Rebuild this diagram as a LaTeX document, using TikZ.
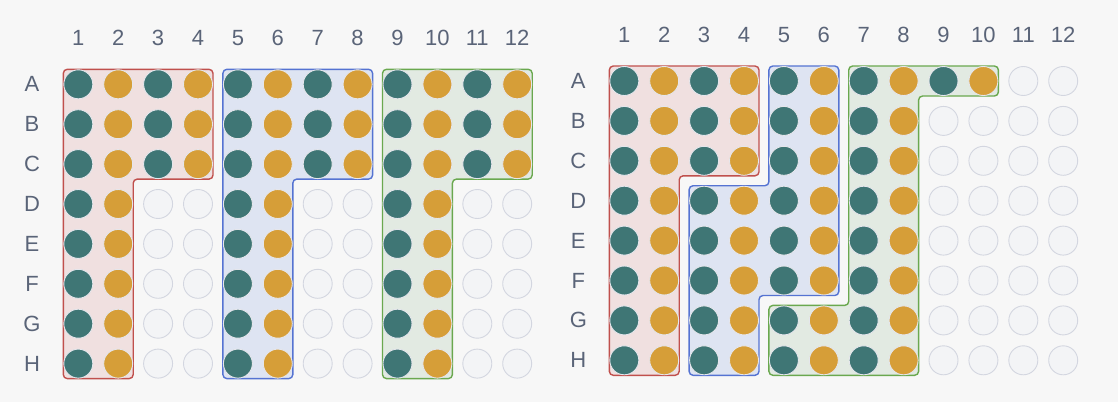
\documentclass[tikz,border=0pt]{standalone}
\usepackage{fontspec}
\setmainfont{Liberation Sans}
\usepackage{tikz, xcolor}
\usetikzlibrary{shapes,arrows}

\definecolor{bgcol}{HTML}{F7F7F7}
\definecolor{labcol}{HTML}{5A6478}
\definecolor{tealwell}{HTML}{3F7675}
\definecolor{goldwell}{HTML}{D69E38}
\definecolor{emptywell}{HTML}{F3F4F6}
\definecolor{wellrim}{HTML}{D3D6E0}
\definecolor{redline}{HTML}{C0504D}
\definecolor{redfill}{HTML}{F0E0E0}
\definecolor{blueline}{HTML}{5573D2}
\definecolor{bluefill}{HTML}{DEE4F2}
\definecolor{greenline}{HTML}{6AA84F}
\definecolor{greenfill}{HTML}{E2EAE2}

\begin{document}
\begin{tikzpicture}[x=1pt, y=-1pt]
\tikzstyle{wellempty}=[circle, draw=wellrim, fill=emptywell, line width=0.9pt, minimum size=29pt, inner sep=0pt]
\tikzstyle{wellteal}=[wellempty, draw=wellrim!60, fill=tealwell]
\tikzstyle{wellgold}=[wellempty, draw=wellrim!60, fill=goldwell]
\tikzstyle{platelabel}=[text=labcol, inner sep=0pt, font=\fontsize{22}{26}\selectfont]
\tikzstyle{redzone}=[draw=redline, fill=redfill, line width=1.4pt, rounded corners=4pt]
\tikzstyle{bluezone}=[draw=blueline, fill=bluefill, line width=1.4pt, rounded corners=4pt]
\tikzstyle{greenzone}=[draw=greenline, fill=greenfill, line width=1.4pt, rounded corners=4pt]

\fill[bgcol] (0,0) rectangle (1118,402);

% left plate: three groups
\draw[redzone] (63.3,69.3) -- (213,69.3) -- (213,179.1) -- (133.2,179.1) -- (133.2,378.6) -- (63.3,378.6) -- cycle;
\draw[bluezone] (222.9,69.3) -- (372.6,69.3) -- (372.6,179.1) -- (292.8,179.1) -- (292.8,378.6) -- (222.9,378.6) -- cycle;
\draw[greenzone] (382.5,69.3) -- (532.2,69.3) -- (532.2,179.1) -- (452.4,179.1) -- (452.4,378.6) -- (382.5,378.6) -- cycle;

% right plate: three groups
\draw[redzone] (609.3,66) -- (759,66) -- (759,175.8) -- (679.2,175.8) -- (679.2,375.3) -- (609.3,375.3) -- cycle;
\draw[bluezone] (768.9,66) -- (838.8,66) -- (838.8,295.5) -- (759,295.5) -- (759,375.3) -- (689.1,375.3) -- (689.1,185.7) -- (768.9,185.7) -- cycle;
\draw[greenzone] (848.7,66) -- (998.4,66) -- (998.4,96) -- (918.6,96) -- (918.6,375.3) -- (768.9,375.3) -- (768.9,305.4) -- (848.7,305.4) -- cycle;

% labels
\foreach \c in {1,...,12}{
  \node[platelabel] (LC\c) at ({78.3+39.9*(\c-1)}, 38) {\c};
  \node[platelabel] (RC\c) at ({624.3+39.9*(\c-1)}, 35) {\c};
}
\foreach \r/\lab in {1/A,2/B,3/C,4/D,5/E,6/F,7/G,8/H}{
  \node[platelabel] (LR\r) at (32, {84.3+39.9*(\r-1)}) {\lab};
  \node[platelabel] (RR\r) at (578.3, {81+39.9*(\r-1)}) {\lab};
}

% wells
\foreach \c in {1,...,12}{
  \foreach \r in {1,...,8}{
    \pgfmathtruncatemacro\odd{mod(\c,2)}
    \pgfmathtruncatemacro\fullL{or(\r<4, mod(\c-1,4)<2)}
    \pgfmathtruncatemacro\fullR{or(\c<9, and(\r==1, \c<11))}
    \ifnum\fullL=1
      \ifnum\odd=1 \def\ws{wellteal}\else \def\ws{wellgold}\fi
    \else \def\ws{wellempty}\fi
    \node[\ws] (L\c x\r) at ({78.3+39.9*(\c-1)}, {84.3+39.9*(\r-1)}) {};
    \ifnum\fullR=1
      \ifnum\odd=1 \def\ws{wellteal}\else \def\ws{wellgold}\fi
    \else \def\ws{wellempty}\fi
    \node[\ws] (R\c x\r) at ({624.3+39.9*(\c-1)}, {81+39.9*(\r-1)}) {};
  }
}
\end{tikzpicture}
\end{document}
